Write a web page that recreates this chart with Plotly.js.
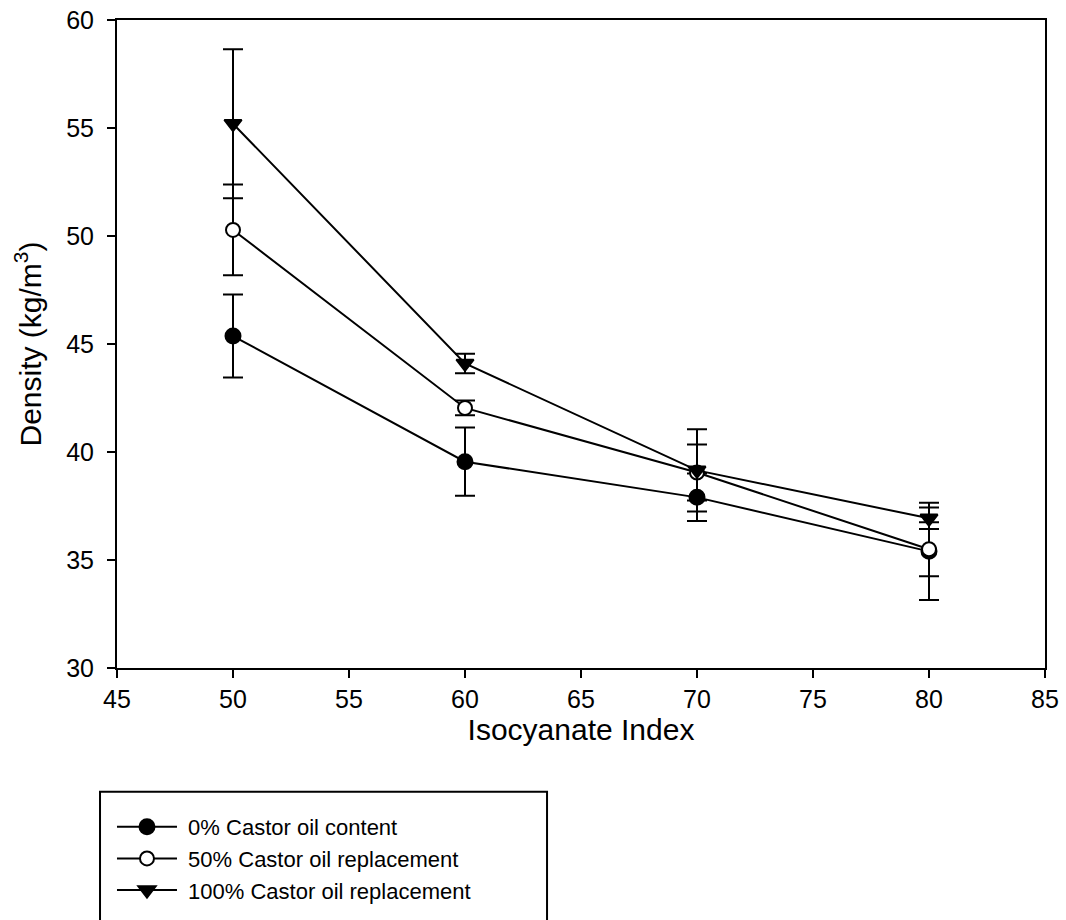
<!DOCTYPE html>
<html>
<head>
<meta charset="utf-8">
<script src="https://cdn.plot.ly/plotly-3.0.1.min.js"></script>
<style>body{margin:0;background:#fff;}#chart{width:1066px;height:920px;}</style>
</head>
<body>
<div id="chart"></div>
<script>
const isocyanateIndex = [50, 60, 70, 80];
const seriesNames = ["0% Castor oil content", "50% Castor oil replacement", "100% Castor oil replacement"];
const density0 = [45.37, 39.55, 37.9, 35.4];
const error0 = [1.92, 1.58, 1.1, 2.25];
const density50 = [50.28, 42.04, 39.05, 35.5];
const error50 = [2.1, 0.34, 1.3, 1.25];
const density100 = [55.2, 44.1, 39.15, 36.93];
const error100 = [3.45, 0.45, 1.9, 0.5];

const font = "Liberation Sans, Arial, sans-serif";
function trace(name, y, err, symbol, fill, size) {
  return {
    x: isocyanateIndex, y: y, name: '\u00a0' + name, type: 'scatter', mode: 'lines+markers',
    line: {color: '#000', width: 2},
    marker: {symbol: symbol, size: size, color: fill, line: {color: '#000', width: 2}},
    error_y: {type: 'data', array: err, visible: true, color: '#000', thickness: 2, width: 10}
  };
}
const data = [
  trace(seriesNames[0], density0, error0, 'circle', '#000', 15),
  trace(seriesNames[1], density50, error50, 'circle', '#fff', 14),
  trace(seriesNames[2], density100, error100, 'triangle-down', '#000', 15)
];
const layout = {
  width: 1066, height: 920,
  margin: {l: 117, r: 21, t: 20, b: 252, autoexpand: false},
  paper_bgcolor: '#fff', plot_bgcolor: '#fff',
  font: {family: font, color: '#000', size: 22},
  showlegend: true,
  xaxis: {
    range: [45, 85], tickvals: [45,50,55,60,65,70,75,80,85], ticktext: ['45','50','55','60','65','70','75','80','85'],
    showgrid: false, zeroline: false, showline: true, linecolor: '#000', linewidth: 2, mirror: true,
    ticks: 'outside', ticklen: 8, tickwidth: 2, tickcolor: '#000',
    tickfont: {size: 25, family: font},
    title: {text: 'Isocyanate Index', font: {size: 30, family: font}, standoff: 2}
  },
  yaxis: {
    range: [30, 60], tickvals: [30,35,40,45,50,55,60], ticktext: ['30','35','40','45','50','55','60'],
    showgrid: false, zeroline: false, showline: true, linecolor: '#000', linewidth: 2, mirror: true,
    ticks: 'outside', ticklen: 8, tickwidth: 2, tickcolor: '#000', ticklabelstandoff: 8,
    tickfont: {size: 25, family: font},
    title: {text: 'Density (kg/m<sup>3</sup>)', font: {size: 30, family: font}, standoff: 16}
  },
  legend: {
    x: -0.0054, xanchor: 'left', y: -0.213, yanchor: 'top',
    bgcolor: 'rgba(0,0,0,0)', borderwidth: 0,
    font: {size: 22, family: font}, itemwidth: 60, tracegroupgap: 0
  },
  shapes: [{
    type: 'rect', xref: 'paper', yref: 'paper',
    x0: -0.0183, x1: 0.4634, y0: -0.40, y1: -0.191,
    line: {color: '#000', width: 2}
  }]
};
Plotly.newPlot('chart', data, layout, {displayModeBar: false, staticPlot: true});
</script>
</body>
</html>
